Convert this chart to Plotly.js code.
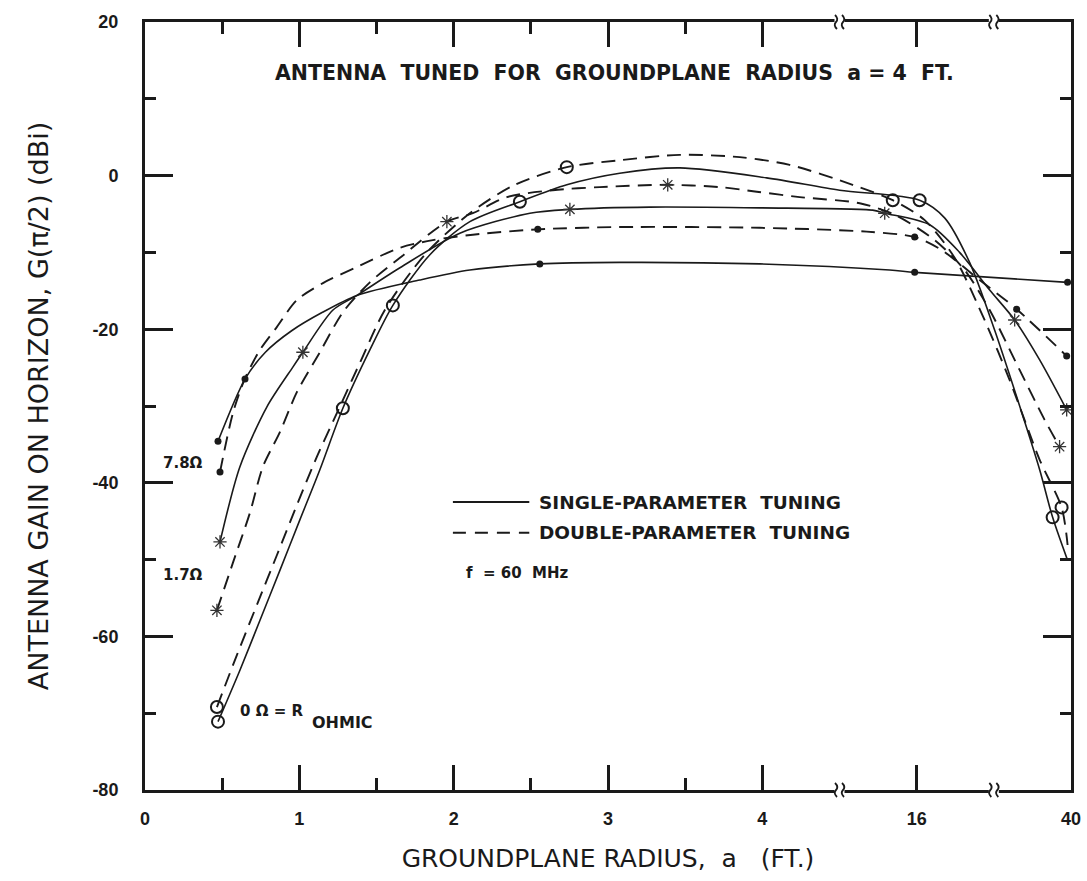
<!DOCTYPE html>
<html>
<head>
<meta charset="utf-8">
<script src="https://cdn.plot.ly/plotly-3.0.1.min.js"></script>
<style>html,body{margin:0;padding:0;background:#fff;}#chart{width:1087px;height:881px;}</style>
</head>
<body>
<div id="chart"></div>
<script>
// ---- Axis categories (x is drawn on a broken scale: one slot per tick label) ----
const xTickPos = [0, 1, 2, 3, 4, 5, 6];
const xTickText = ["0", "1", "2", "3", "4", "16", "40"];
const yTickVals = [20, 0, -20, -40, -60, -80];
const yTickText = ["20", "0", "-20", "-40", "-60", "-80"];

// ---- 7.8 ohm, single-parameter tuning (solid, filled dots) ----
const single78X = [0.473, 0.648, 0.78, 0.95, 1.15, 1.373, 1.781, 2.105, 2.558, 3.076, 3.983, 4.825, 4.987, 5.978];
const single78Y = [-34.6, -26.5, -23.0, -20.2, -17.8, -15.6, -13.6, -12.3, -11.5, -11.3, -11.5, -12.3, -12.6, -13.9];
const single78Marks = [0, 1, 8, 12, 13];

// ---- 7.8 ohm, double-parameter tuning (dashed, filled dots) ----
const double78X = [0.486, 0.570, 0.648, 0.745, 0.855, 0.984, 1.153, 1.373, 1.652, 1.865, 2.124, 2.545, 3.076, 3.983, 4.676, 4.987, 5.162, 5.408, 5.648, 5.972];
const double78Y = [-38.6, -30.9, -26.4, -22.7, -19.7, -16.2, -14.0, -11.9, -9.4, -8.4, -7.7, -7.0, -6.7, -6.8, -7.3, -8.0, -9.7, -13.6, -17.4, -23.5];
const double78Marks = [0, 11, 15, 18, 19];

// ---- 1.7 ohm, single-parameter tuning (solid, asterisks) ----
const single17X = [0.486, 0.615, 0.790, 0.959, 1.023, 1.218, 1.373, 1.652, 2.040, 2.494, 2.753, 3.271, 3.983, 4.715, 4.793, 5.084, 5.278, 5.473, 5.635, 5.797, 5.972];
const single17Y = [-47.7, -37.9, -30.1, -24.9, -23.0, -17.5, -15.6, -12.0, -7.5, -4.9, -4.4, -4.1, -4.2, -4.5, -4.9, -6.4, -10.0, -14.9, -18.8, -24.0, -30.5];
const single17Marks = [0, 4, 10, 14, 18, 20];

// ---- 1.7 ohm, double-parameter tuning (dashed, asterisks) ----
const double17X = [0.466, 0.570, 0.680, 0.764, 0.874, 0.984, 1.133, 1.282, 1.457, 1.652, 1.956, 2.124, 2.345, 2.642, 2.947, 3.387, 3.724, 3.964, 4.242, 4.631, 4.858, 5.117, 5.311, 5.473, 5.667, 5.829, 5.926];
const double17Y = [-56.6, -50.4, -43.9, -37.9, -33.4, -28.2, -23.0, -17.8, -13.9, -10.7, -6.0, -4.9, -2.8, -1.9, -1.5, -1.2, -1.5, -2.1, -2.8, -3.6, -5.1, -8.4, -12.3, -17.5, -25.3, -31.8, -35.3];
const double17Marks = [0, 10, 15, 26];

// ---- 0 ohm (= R ohmic), single-parameter tuning (solid, open circles) ----
const single0X = [0.473, 0.615, 0.745, 0.874, 1.004, 1.133, 1.282, 1.457, 1.606, 1.846, 2.105, 2.429, 2.733, 3.076, 3.465, 4.028, 4.501, 5.019, 5.181, 5.343, 5.505, 5.648, 5.797, 5.881, 5.978];
const single0Y = [-71.1, -64.4, -57.9, -51.4, -44.8, -38.3, -30.3, -22.7, -16.9, -10.3, -6.0, -3.4, -1.2, 0.3, 1.0, -0.3, -1.9, -3.2, -5.5, -11.3, -20.1, -28.8, -38.3, -44.5, -50.1];
const single0Marks = [0, 6, 8, 11, 17, 23];

// ---- 0 ohm (= R ohmic), double-parameter tuning (dashed, open circles) ----
const double0X = [0.466, 0.596, 0.725, 0.855, 0.984, 1.114, 1.244, 1.392, 1.554, 1.813, 2.105, 2.396, 2.733, 3.076, 3.465, 3.854, 4.177, 4.585, 4.845, 5.052, 5.246, 5.440, 5.602, 5.797, 5.939, 5.978];
const double0Y = [-69.2, -62.4, -55.9, -49.4, -42.9, -36.6, -30.9, -24.4, -17.5, -10.3, -4.9, -1.2, 1.1, 2.0, 2.7, 2.4, 1.4, -1.2, -3.2, -5.8, -10.7, -18.8, -26.6, -37.0, -43.2, -48.1];
const double0Marks = [0, 12, 18, 24];

const INK = '#1a1a1a';
const FONT = 'Liberation Sans, Arial, sans-serif';
const WIDE = 'DejaVu Sans, Verdana, sans-serif';

function curve(xs, ys, dashed) {
  return {
    type: 'scatter', mode: 'lines', x: xs, y: ys, hoverinfo: 'skip',
    line: { color: INK, width: dashed ? 1.9 : 1.6, dash: dashed ? '14px,8px' : 'solid', shape: 'spline', smoothing: 0.8 }
  };
}
function marks(xs, ys, idx, kind) {
  const m = {
    dot: { symbol: 'circle', size: 7, color: INK, line: { width: 0 } },
    star: { symbol: 'asterisk-open', size: 11, color: '#333', line: { width: 1.3, color: '#333' } },
    ring: { symbol: 'circle-open', size: 12, color: INK, line: { width: 2, color: INK } }
  }[kind];
  return { type: 'scatter', mode: 'markers', x: idx.map(i => xs[i]), y: idx.map(i => ys[i]), marker: m, hoverinfo: 'skip' };
}

const data = [
  curve(single78X, single78Y, false), marks(single78X, single78Y, single78Marks, 'dot'),
  curve(double78X, double78Y, true), marks(double78X, double78Y, double78Marks, 'dot'),
  curve(single17X, single17Y, false), marks(single17X, single17Y, single17Marks, 'star'),
  curve(double17X, double17Y, true), marks(double17X, double17Y, double17Marks, 'star'),
  curve(single0X, single0Y, false), marks(single0X, single0Y, single0Marks, 'ring'),
  curve(double0X, double0Y, true), marks(double0X, double0Y, double0Marks, 'ring')
];

// axis-break symbols
const shapes = [];
[4.5, 5.5].forEach(b => {
  [0, 1].forEach(yp => {
    shapes.push({ type: 'rect', xref: 'x', yref: 'paper', xsizemode: 'pixel', ysizemode: 'pixel', xanchor: b, yanchor: yp,
      x0: -5, x1: 5, y0: -4, y1: 4, fillcolor: 'white', line: { width: 0 }, layer: 'above' });
    [-3.5, 3.5].forEach(dx => {
      shapes.push({ type: 'path', xref: 'x', yref: 'paper', xsizemode: 'pixel', ysizemode: 'pixel', xanchor: b, yanchor: yp,
        path: `M ${dx + 1},-7 Q ${dx - 3},-3 ${dx},0 Q ${dx + 3},3 ${dx - 1},7`, line: { color: INK, width: 1.8 }, layer: 'above' });
    });
  });
});
// legend samples
shapes.push({ type: 'line', xref: 'x', yref: 'y', x0: 1.995, x1: 2.49, y0: -42.5, y1: -42.5, line: { color: INK, width: 2 } });
shapes.push({ type: 'line', xref: 'x', yref: 'y', x0: 1.995, x1: 2.49, y0: -46.5, y1: -46.5, line: { color: INK, width: 2, dash: '13px,9px' } });

const bold = (s) => ({ family: WIDE, size: s, color: INK, weight: 'bold' });
const annotations = [
  { text: 'ANTENNA  TUNED  FOR  GROUNDPLANE  RADIUS  a = 4  FT.', x: 3.044, y: 13.4, xref: 'x', yref: 'y', showarrow: false, font: bold(20.5) },
  { text: 'SINGLE-PARAMETER  TUNING', x: 2.54, y: -42.5, xref: 'x', yref: 'y', xanchor: 'left', showarrow: false, font: bold(18.5) },
  { text: 'DOUBLE-PARAMETER  TUNING', x: 2.54, y: -46.5, xref: 'x', yref: 'y', xanchor: 'left', showarrow: false, font: bold(18.5) },
  { text: 'f  = 60  MHz', x: 2.07, y: -51.7, xref: 'x', yref: 'y', xanchor: 'left', showarrow: false, font: bold(15) },
  { text: '7.8Ω', x: 0.39, y: -37.4, xref: 'x', yref: 'y', xanchor: 'right', showarrow: false, font: bold(15) },
  { text: '1.7Ω', x: 0.39, y: -52.0, xref: 'x', yref: 'y', xanchor: 'right', showarrow: false, font: bold(15) },
  { text: '0 Ω = R', x: 0.60, y: -69.7, xref: 'x', yref: 'y', xanchor: 'left', showarrow: false, font: bold(15) },
  { text: 'OHMIC', x: 1.07, y: -71.2, xref: 'x', yref: 'y', xanchor: 'left', showarrow: false, font: bold(16) }
];

const layout = {
  width: 1087, height: 881,
  margin: { l: 145, r: 16, t: 22, b: 91 },
  paper_bgcolor: 'white', plot_bgcolor: 'white',
  showlegend: false,
  font: { family: FONT, color: INK },
  xaxis: {
    range: [0, 6], tickmode: 'array', tickvals: xTickPos, ticktext: xTickText,
    ticks: 'inside', ticklen: 25, tickwidth: 3, tickcolor: INK,
    showline: true, linewidth: 3, linecolor: INK, mirror: 'ticks',
    showgrid: false, zeroline: false, ticklabelstandoff: 10,
    minor: { tickmode: 'array', tickvals: [0.5, 1.5, 2.5, 3.5], ticks: 'inside', ticklen: 12, tickwidth: 3, tickcolor: INK, showgrid: false },
    tickfont: { family: FONT, size: 18, color: INK, weight: 'bold' },
    title: { text: 'GROUNDPLANE RADIUS,  a   (FT.)\u00a0\u00a0\u00a0\u00a0\u00a0\u00a0', standoff: 22, font: { family: WIDE, size: 25, color: INK } }
  },
  yaxis: {
    range: [-80, 20], tickmode: 'array', tickvals: yTickVals, ticktext: yTickText,
    ticks: 'inside', ticklen: 28, tickwidth: 3, tickcolor: INK,
    showline: true, linewidth: 3, linecolor: INK, mirror: 'ticks',
    showgrid: false, zeroline: false, ticklabelstandoff: 20,
    minor: { tickmode: 'array', tickvals: [10, -10, -30, -50, -70], ticks: 'inside', ticklen: 11, tickwidth: 3, tickcolor: INK, showgrid: false },
    tickfont: { family: FONT, size: 18, color: INK, weight: 'bold' },
    title: { text: 'ANTENNA GAIN ON HORIZON, G(π/2) (dBi)', standoff: 36, font: { family: WIDE, size: 27, color: INK } }
  },
  shapes: shapes,
  annotations: annotations
};

Plotly.newPlot('chart', data, layout, { staticPlot: true, displayModeBar: false });
</script>
</body>
</html>
